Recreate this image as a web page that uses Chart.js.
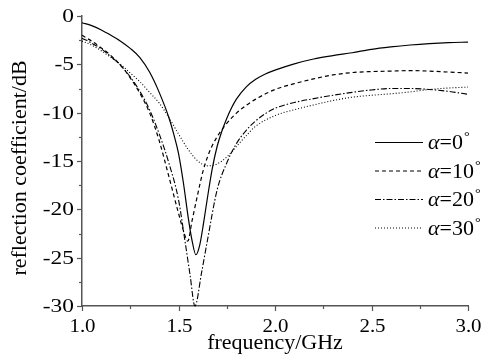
<!DOCTYPE html>
<html>
<head>
<meta charset="utf-8">
<script src="https://cdn.jsdelivr.net/npm/chart.js@4/dist/chart.umd.min.js"></script>
<style>
html,body{margin:0;padding:0;background:#fff;}
#wrap{width:485px;height:364px;position:relative;}
</style>
</head>
<body>
<div id="wrap"><canvas id="c" width="485" height="364"></canvas></div>
<script>
// ---- data ----
const xTickLabels = ['1.0', '1.5', '2.0', '2.5', '3.0'];
const yTickLabels = ['0', '-5', '-10', '-15', '-20', '-25', '-30'];
const seriesNames = ['0', '10', '20', '30']; // alpha in degrees
const xTitle = 'frequency/GHz';
const yTitle = 'reflection coefficient/dB';

const alpha0Freq = [1.0, 1.05, 1.1, 1.15, 1.2, 1.25, 1.3, 1.35, 1.4, 1.45, 1.475, 1.5, 1.525, 1.55, 1.57, 1.59, 1.61, 1.63, 1.65, 1.675, 1.7, 1.725, 1.75, 1.775, 1.8, 1.85, 1.9, 1.95, 2.0, 2.1, 2.2, 2.3, 2.4, 2.5, 2.6, 2.7, 2.8, 2.9, 3.0];
const alpha0Loss = [-0.7, -1.0, -1.45, -2.0, -2.6, -3.35, -4.3, -5.8, -7.9, -10.5, -12.2, -14.2, -17.2, -20.8, -23.2, -24.7, -23.7, -21.4, -18.8, -15.8, -13.5, -11.9, -10.6, -9.5, -8.6, -7.35, -6.55, -6.0, -5.6, -4.95, -4.45, -4.1, -3.8, -3.45, -3.2, -3.0, -2.85, -2.75, -2.7];

const alpha10Freq = [1.0, 1.05, 1.1, 1.15, 1.2, 1.25, 1.3, 1.35, 1.4, 1.45, 1.5, 1.53, 1.548, 1.57, 1.6, 1.625, 1.65, 1.675, 1.7, 1.75, 1.8, 1.85, 1.9, 2.0, 2.1, 2.2, 2.3, 2.4, 2.5, 2.6, 2.7, 2.8, 2.9, 3.0];
const alpha10Loss = [-2.0, -2.6, -3.3, -4.1, -5.1, -6.4, -8.0, -10.0, -12.9, -16.6, -20.4, -22.5, -23.3, -21.2, -18.4, -16.2, -14.6, -13.4, -12.5, -11.1, -10.05, -9.25, -8.6, -7.6, -7.0, -6.5, -6.1, -5.85, -5.75, -5.7, -5.65, -5.7, -5.8, -5.9];

const alpha20Freq = [1.0, 1.05, 1.1, 1.15, 1.2, 1.25, 1.3, 1.35, 1.4, 1.45, 1.5, 1.533, 1.56, 1.585, 1.62, 1.65, 1.7, 1.75, 1.8, 1.85, 1.9, 1.95, 2.0, 2.1, 2.2, 2.3, 2.4, 2.5, 2.6, 2.7, 2.8, 2.9, 3.0];
const alpha20Loss = [-2.3, -2.8, -3.4, -4.2, -5.1, -6.3, -7.8, -9.7, -12.2, -15.2, -19.0, -23.2, -26.8, -30.0, -26.5, -23.2, -18.0, -15.2, -13.2, -11.85, -10.85, -10.1, -9.55, -8.95, -8.55, -8.2, -7.9, -7.65, -7.5, -7.5, -7.6, -7.8, -8.1];

const alpha30Freq = [1.0, 1.05, 1.1, 1.15, 1.2, 1.25, 1.3, 1.35, 1.4, 1.45, 1.5, 1.55, 1.6, 1.65, 1.7, 1.75, 1.8, 1.85, 1.9, 2.0, 2.1, 2.2, 2.3, 2.4, 2.5, 2.6, 2.7, 2.8, 2.9, 3.0];
const alpha30Loss = [-2.6, -3.0, -3.6, -4.3, -5.0, -5.9, -6.8, -7.9, -9.0, -10.5, -12.2, -13.8, -15.0, -15.5, -15.3, -14.6, -13.5, -12.4, -11.4, -10.3, -9.7, -9.2, -8.75, -8.4, -8.2, -8.05, -7.85, -7.6, -7.45, -7.35];

// ---- build ----
function pts(xs, ys){ return xs.map((x,i)=>({x:x, y:ys[i]})); }
const FONT = "'Liberation Serif', 'Times New Roman', serif";
const AXIS_COLOR = '#555';

const datasets = [
  {data: pts(alpha0Freq, alpha0Loss), borderDash: [], borderWidth: 1.2},
  {data: pts(alpha10Freq, alpha10Loss), borderDash: [4,3], borderWidth: 1.2},
  {data: pts(alpha20Freq, alpha20Loss), borderDash: [6,2,1.5,2], borderWidth: 1.1},
  {data: pts(alpha30Freq, alpha30Loss), borderDash: [1,2], borderWidth: 1.1}
].map((d,i)=>Object.assign({
  label: 'α=' + seriesNames[i] + '°',
  borderColor: '#000',
  backgroundColor: '#000',
  pointRadius: 0,
  fill: false,
  cubicInterpolationMode: 'monotone',
  clip: 4
}, d));

function stretchText(ctx, text, x, y, sx, align){
  ctx.save();
  const w = ctx.measureText(text).width * sx;
  let left = x;
  if (align === 'right') left = x - w;
  else if (align === 'center') left = x - w/2;
  ctx.translate(left, y);
  ctx.scale(sx, 1);
  ctx.textAlign = 'left';
  ctx.fillText(text, 0, 0);
  ctx.restore();
}

const axisPlugin = {
  id: 'axisDecor',
  afterDraw(chart){
    const ctx = chart.ctx;
    const xs = chart.scales.x, ys = chart.scales.y;
    const ca = chart.chartArea;
    ctx.save();
    ctx.strokeStyle = AXIS_COLOR;
    ctx.lineWidth = 1.2;
    ctx.fillStyle = '#000';
    ctx.textBaseline = 'middle';
    ctx.font = '18px ' + FONT;
    ys.ticks.forEach(t=>{
      const major = Math.abs(t.value % 5) < 1e-6;
      const p = Math.round(ys.getPixelForValue(t.value)) + 0.5;
      ctx.beginPath();
      ctx.moveTo(ca.left, p);
      ctx.lineTo(ca.left - (major ? 5 : 3), p);
      ctx.stroke();
      if (major) stretchText(ctx, yTickLabels[Math.round(-t.value/5)], ca.left - 8, p + 1, 1.3, 'right');
    });
    ctx.textBaseline = 'alphabetic';
    ctx.font = '19px ' + FONT;
    xs.ticks.forEach(t=>{
      const major = Math.abs((t.value*2) - Math.round(t.value*2)) < 1e-6;
      const p = Math.round(xs.getPixelForValue(t.value)) + 0.5;
      ctx.beginPath();
      ctx.moveTo(p, ca.bottom);
      ctx.lineTo(p, ca.bottom + (major ? 5 : 3));
      ctx.stroke();
      if (major) stretchText(ctx, xTickLabels[Math.round((t.value-1)/0.5)], p, ca.bottom + 26, 1.1, 'center');
    });
    // axis titles
    ctx.font = '22px ' + FONT;
    stretchText(ctx, xTitle, (ca.left + ca.right)/2, 349, 1.0, 'center');
    ctx.save();
    ctx.translate(26, 168);
    ctx.rotate(-Math.PI/2);
    ctx.textBaseline = 'alphabetic';
    ctx.textAlign = 'center';
    ctx.fillText(yTitle, 0, 0);
    ctx.restore();
    ctx.restore();
  }
};

const legendPlugin = {
  id: 'serifLegend',
  afterDraw(chart){
    const ctx = chart.ctx;
    ctx.save();
    const x0 = 375, x1 = 423, tx = 428, y0 = 142, dy = 28.5, sx = 1.1;
    chart.data.datasets.forEach((ds, i)=>{
      const y = y0 + i*dy;
      ctx.strokeStyle = '#000';
      ctx.lineWidth = ds.borderWidth;
      ctx.setLineDash(ds.borderDash);
      ctx.beginPath();
      ctx.moveTo(x0, y + 0.5);
      ctx.lineTo(x1, y + 0.5);
      ctx.stroke();
      ctx.setLineDash([]);
      ctx.fillStyle = '#000';
      ctx.textBaseline = 'alphabetic';
      let x = tx;
      ctx.font = 'italic 20px ' + FONT;
      stretchText(ctx, 'α', x, y + 7, sx, 'left');
      x += ctx.measureText('α').width * sx;
      ctx.font = '20px ' + FONT;
      const s = '=' + seriesNames[i];
      stretchText(ctx, s, x, y + 7, sx, 'left');
      x += ctx.measureText(s).width * sx + 1;
      ctx.font = '13px ' + FONT;
      stretchText(ctx, '°', x, y - 2, sx, 'left');
    });
    ctx.restore();
  }
};

new Chart(document.getElementById('c'), {
  type: 'line',
  data: { datasets },
  options: {
    responsive: false,
    animation: false,
    events: [],
    layout: { padding: { left: 0, right: 17, top: 16, bottom: 0 } },
    plugins: { legend: { display: false }, tooltip: { enabled: false } },
    scales: {
      x: {
        type: 'linear', min: 1.0, max: 3.0,
        afterFit(s){ s.height = 58; },
        afterBuildTicks(s){
          const a = []; for (let v = 1.0; v <= 3.0001; v += 0.25) a.push({value: Math.round(v*100)/100});
          s.ticks = a;
        },
        ticks: { display: false, autoSkip: false },
        grid: { display: false, drawTicks: false },
        border: { display: true, color: AXIS_COLOR, width: 1.5 },
        title: { display: false }
      },
      y: {
        type: 'linear', min: -30, max: 0,
        afterFit(s){ s.width = 82; },
        afterBuildTicks(s){
          const a = []; for (let v = -30; v <= 0.0001; v += 2.5) a.push({value: v});
          s.ticks = a;
        },
        ticks: { display: false, autoSkip: false },
        grid: { display: false, drawTicks: false },
        border: { display: true, color: AXIS_COLOR, width: 1.5 },
        title: { display: false }
      }
    }
  },
  plugins: [axisPlugin, legendPlugin]
});
</script>
</body>
</html>
